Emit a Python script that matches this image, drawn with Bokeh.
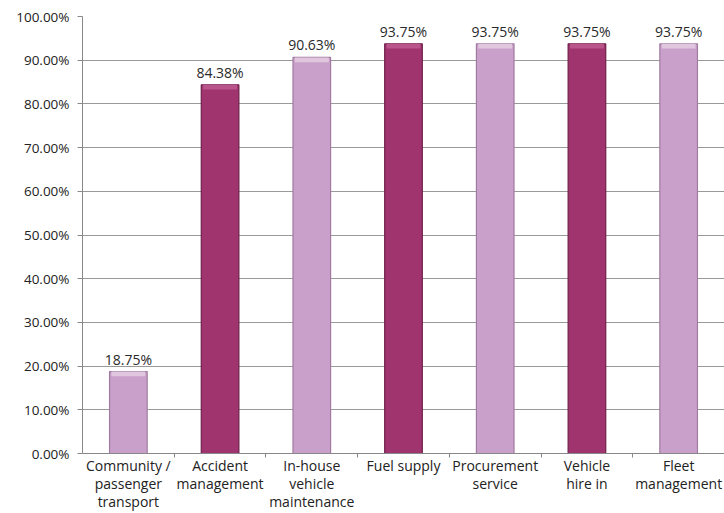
from bokeh.plotting import figure
from bokeh.models import ColumnDataSource, FixedTicker, Range1d, NumeralTickFormatter, LabelSet
from bokeh.core.properties import value
from bokeh.embed import file_html
from bokeh.resources import INLINE

categories = ["Community /\npassenger\ntransport", "Accident\nmanagement", "In-house\nvehicle\nmaintenance",
              "Fuel supply", "Procurement\nservice", "Vehicle\nhire in", "Fleet\nmanagement"]
values = [18.75, 84.38, 90.63, 93.75, 93.75, 93.75, 93.75]
bar_colors = ["#c9a0c9", "#a0346e", "#c9a0c9", "#a0346e", "#c9a0c9", "#a0346e", "#c9a0c9"]
edge_colors = ["#a07aa0", "#6e1f4a", "#a07aa0", "#6e1f4a", "#a07aa0", "#6e1f4a", "#a07aa0"]
cap_colors = ["#e0c6df", "#b9558b", "#e0c6df", "#b9558b", "#e0c6df", "#b9558b", "#e0c6df"]
y_ticks = [0, 10, 20, 30, 40, 50, 60, 70, 80, 90, 100]

n = len(categories)
xs = [i + 0.5 for i in range(n)]
frac = [v / 100 for v in values]
src = ColumnDataSource(dict(x=xs, top=frac, color=bar_colors, edge=edge_colors, cap=cap_colors,
                            cap_bottom=[f - 0.011 for f in frac],
                            label=["%.2f%%" % v for v in values]))

FONT = "Open Sans"
p = figure(width=724, height=513, output_backend="svg", toolbar_location=None,
           x_range=Range1d(0, n), y_range=Range1d(0, 1.0),
           min_border_left=82, min_border_right=0, min_border_top=16, min_border_bottom=58)
p.outline_line_color = None
p.background_fill_color = "white"

p.vbar(x="x", top="top", bottom=0, width=0.41, fill_color="color", line_color="edge", line_width=1.2, source=src)
p.vbar(x="x", top="top", bottom="cap_bottom", width=0.37, fill_color="cap", line_color=None, source=src)

labels = LabelSet(x="x", y="top", text="label", source=src, text_align="center", text_baseline="bottom",
                  y_offset=3, text_font=value(FONT), text_font_size="14px", text_color="#2a2a2a")
p.add_layout(labels)

# x axis
p.xaxis.ticker = FixedTicker(ticks=xs, minor_ticks=list(range(1, n)))
p.xaxis.major_label_overrides = {x: c for x, c in zip(xs, categories)}
p.xaxis.major_tick_line_color = None
p.xaxis.major_tick_out = 0
p.xaxis.major_tick_in = 0
p.xaxis.minor_tick_out = 4
p.xaxis.minor_tick_in = 0
p.xaxis.minor_tick_line_color = "#888888"
p.xaxis.axis_line_color = "#888888"
p.xaxis.major_label_text_font = FONT
p.xaxis.major_label_text_font_size = "14px"
p.xaxis.major_label_text_line_height = 0.95
p.xaxis.major_label_text_color = "#222222"
p.xaxis.major_label_standoff = -2
p.xgrid.grid_line_color = None

# y axis
p.yaxis.ticker = FixedTicker(ticks=[t / 100 for t in y_ticks], minor_ticks=[])
p.yaxis.formatter = NumeralTickFormatter(format="0.00%")
p.yaxis.axis_line_color = "#888888"
p.yaxis.major_tick_line_color = "#888888"
p.yaxis.major_tick_out = 5
p.yaxis.major_tick_in = 0
p.yaxis.major_label_text_font = FONT
p.yaxis.major_label_text_font_size = "13.5px"
p.yaxis.major_label_text_color = "#222222"
p.yaxis.major_label_standoff = 8
p.ygrid.grid_line_color = "#999999"
p.ygrid.grid_line_width = 1

open("out.html", "w").write(file_html(p, INLINE))
